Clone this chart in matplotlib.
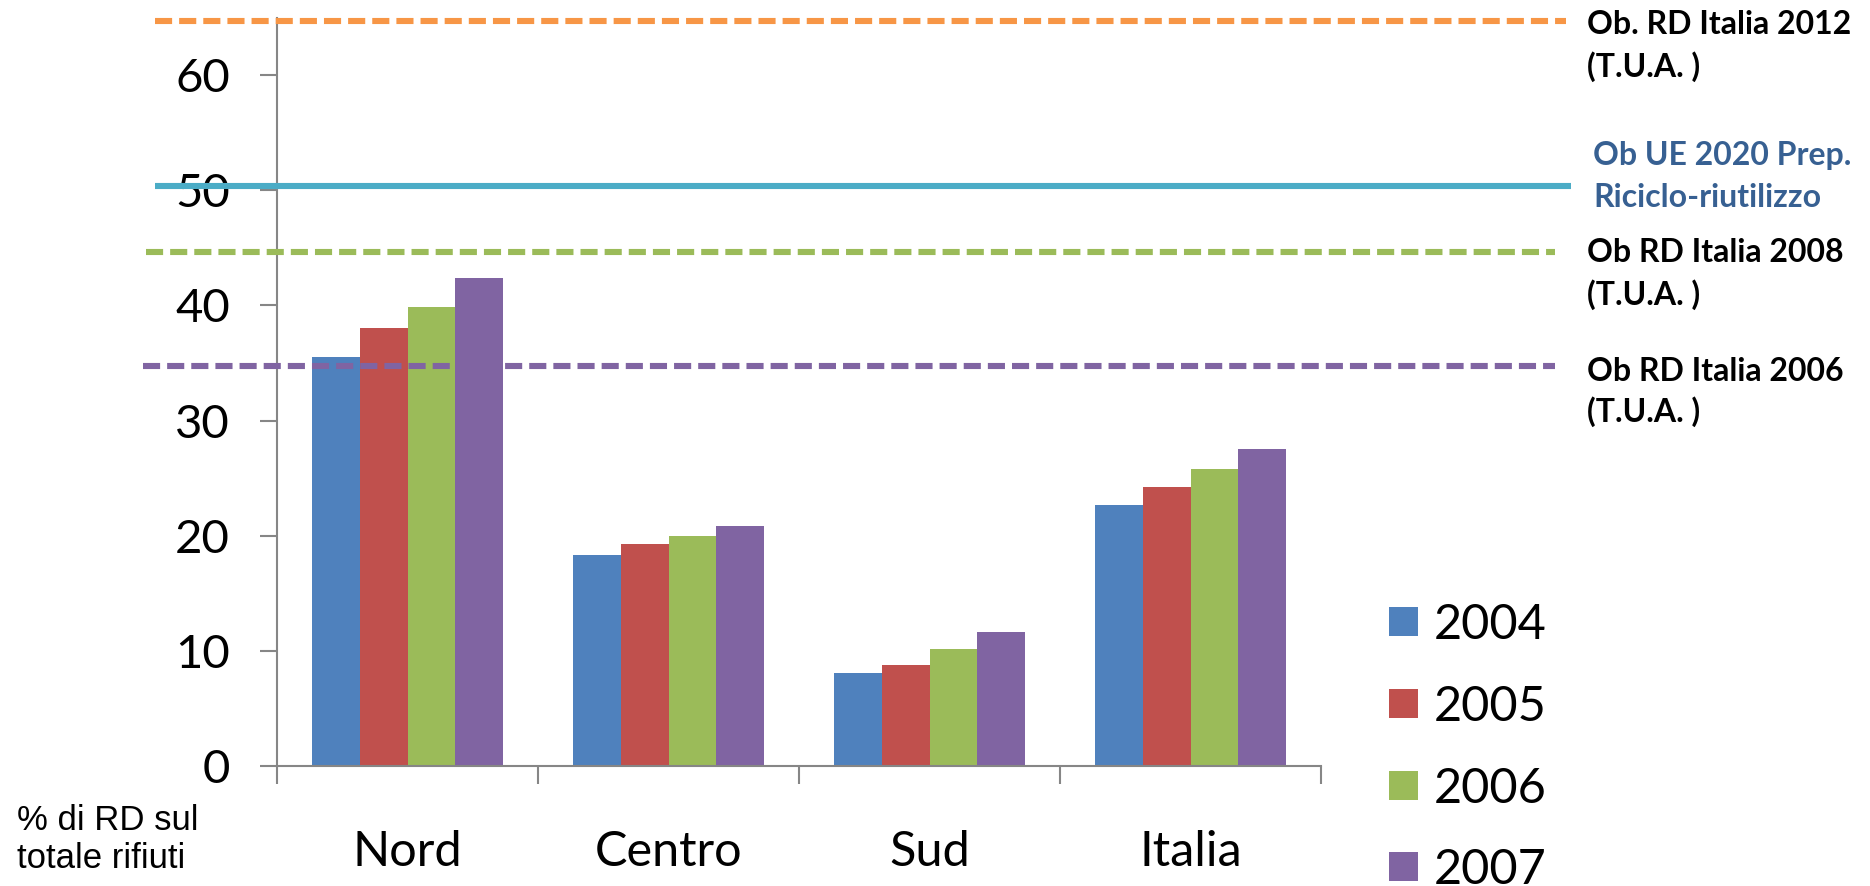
import matplotlib
matplotlib.use("Agg")
import matplotlib.pyplot as plt
import matplotlib.transforms as mtransforms
from matplotlib.patches import Rectangle
import numpy as np

plt.rcParams['font.family'] = ['Lato', 'DejaVu Sans']

# Data
regions = ['Nord', 'Centro', 'Sud', 'Italia']
years = ['2004', '2005', '2006', '2007']
rd_2004 = [35.5, 18.3, 8.1, 22.7]
rd_2005 = [38.0, 19.3, 8.8, 24.2]
rd_2006 = [39.9, 20.0, 10.2, 25.8]
rd_2007 = [42.4, 20.8, 11.6, 27.5]
series = [rd_2004, rd_2005, rd_2006, rd_2007]
bar_colors = ['#4F81BD', '#C0504D', '#9BBB59', '#8064A2']

# Target lines (value, colour, dashed?)
target_values = [64.7, 50.4, 44.6, 34.7]
target_colors = ['#F79646', '#4BACC6', '#9BBB59', '#8064A2']
target_dashed = [True, False, True, True]
target_x0 = [155, 155, 146, 143]        # pixel start
target_x1 = [1566, 1571, 1555, 1555]    # pixel end

target_labels = [
    ['Ob. RD Italia 2012', '(T.U.A. )'],
    ['Ob UE 2020 Prep.', 'Riciclo-riutilizzo'],
    ['Ob RD Italia 2008', '(T.U.A. )'],
    ['Ob RD Italia 2006', '(T.U.A. )'],
]
label_colors = ['black', '#376092', 'black', 'black']
label_x = [1587, 1593, 1587, 1587]
label_baselines = [[34, 77], [165, 207], [262, 305], [381, 422]]

W, H = 1870, 886
fig = plt.figure(figsize=(W / 100, H / 100), dpi=100)
ax = fig.add_axes([277 / W, 1 - 766 / H, (1321 - 277) / W, (766 - 17.5) / H])

x = np.arange(len(regions))
bw = 0.182
for i, vals in enumerate(series):
    ax.bar(x + (i - 1.5) * bw, vals, width=bw, color=bar_colors[i], zorder=2)

ax.set_xlim(-0.5, 3.5)
ax.set_ylim(0, 65)

ax.spines['top'].set_visible(False)
ax.spines['right'].set_visible(False)
for s in ['left', 'bottom']:
    ax.spines[s].set_color('#868686')
    ax.spines[s].set_linewidth(1.5)

ax.set_yticks(range(0, 61, 10))
ax.tick_params(axis='y', length=12, width=1.5, color='#868686', pad=22,
               labelsize=34)
ax.set_xticks(np.arange(-0.5, 4, 1))
ax.set_xticklabels([])
ax.tick_params(axis='x', length=13, width=1.5, color='#868686')

# category labels
tr_cat = mtransforms.blended_transform_factory(ax.transData, fig.transFigure)
for i, name in enumerate(regions):
    ax.text(i, 1 - 866 / H, name, transform=tr_cat, ha='center',
            va='baseline', fontsize=35)

# horizontal target lines (extend past the plot area)
tr_line = mtransforms.blended_transform_factory(fig.transFigure, ax.transData)
for v, c, d, x0, x1 in zip(target_values, target_colors, target_dashed,
                           target_x0, target_x1):
    ls = (0, (2.8, 1.15)) if d else '-'
    ax.plot([x0 / W, x1 / W], [v, v], transform=tr_line, color=c, lw=4.4,
            linestyle=ls, clip_on=False, zorder=3, solid_capstyle='butt')

for lines, c, lx, bls in zip(target_labels, label_colors, label_x,
                             label_baselines):
    for txt, b in zip(lines, bls):
        fig.text(lx / W, 1 - b / H, txt, color=c, fontsize=23,
                 fontweight='bold', va='baseline', ha='left')

# legend
leg_centers = [621, 703, 785, 866]
for yr, c, cy in zip(years, bar_colors, leg_centers):
    fig.patches.append(Rectangle((1389 / W, 1 - (cy + 14.5) / H), 29 / W,
                                 29 / H, transform=fig.transFigure,
                                 facecolor=c, edgecolor='none'))
    fig.text(1434 / W, 1 - cy / H, yr, fontsize=35, va='center_baseline',
             ha='left')

# y axis caption
for txt, b in zip(['% di RD sul', 'totale rifiuti'], [830, 868]):
    fig.text(17 / W, 1 - b / H, txt, fontsize=25, va='baseline', ha='left',
             family=['Liberation Sans Narrow', 'Liberation Sans'])

fig.savefig('out.png', dpi=100)
